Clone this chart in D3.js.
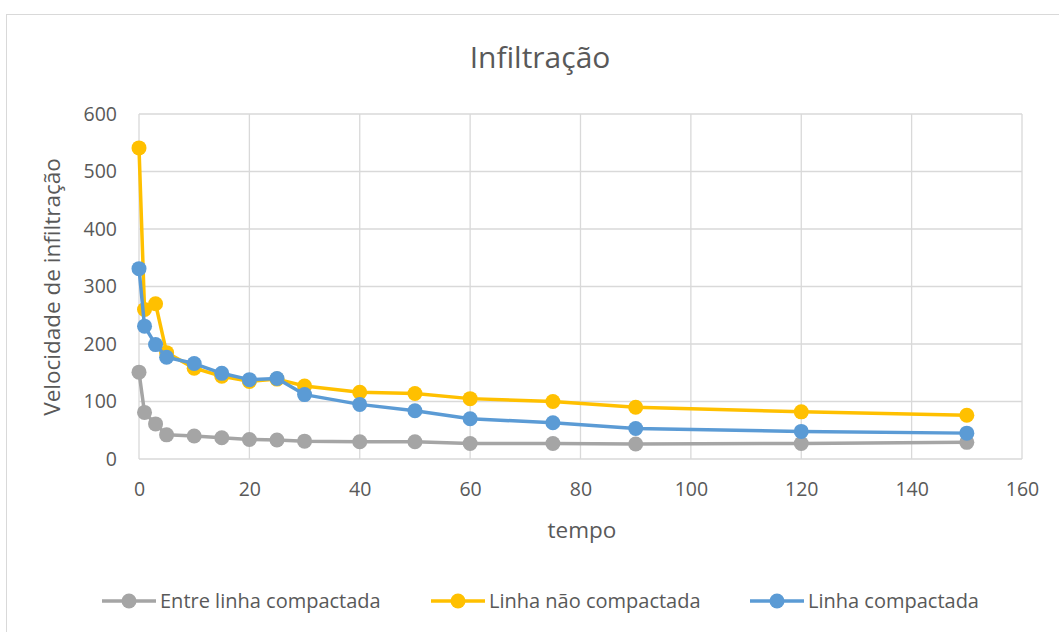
<!DOCTYPE html>
<html>
<head>
<meta charset="utf-8">
<script src="https://cdn.jsdelivr.net/npm/d3@7"></script>
<style>
  body { margin: 0; background: #fff; }
  text { font-family: "Open Sans", "Noto Sans", sans-serif; fill: #595959; }
</style>
</head>
<body>
<script>
// data
var tempo = [0, 1, 3, 5, 10, 15, 20, 25, 30, 40, 50, 60, 75, 90, 120, 150];
var entreLinha = [151, 81, 61, 42, 40, 37, 34, 33, 31, 30, 30, 27, 27, 26, 27, 29];
var linhaNao = [541, 260, 270, 185, 158, 144, 135, 139, 127, 116, 114, 105, 100, 90, 82, 76];
var linhaComp = [331, 231, 199, 177, 166, 149, 138, 140, 112, 95, 84, 70, 63, 53, 48, 45];
var seriesNames = ["Entre linha compactada", "Linha não compactada", "Linha compactada"];
var seriesColors = ["#A5A5A5", "#FFC000", "#5B9BD5"];
var xTicks = [0, 20, 40, 60, 80, 100, 120, 140, 160];
var yTicks = [0, 100, 200, 300, 400, 500, 600];

var W = 1059, H = 632;
var plot = {left: 139, right: 1022, top: 114, bottom: 459};

var svg = d3.select("body").append("svg")
  .attr("width", W).attr("height", H);

// chart border
svg.append("rect")
  .attr("x", 6.5).attr("y", 14.5)
  .attr("width", W + 20).attr("height", H + 20)
  .attr("fill", "#fff").attr("stroke", "#D9D9D9").attr("stroke-width", 1);

var x = d3.scaleLinear().domain([0, 160]).range([plot.left, plot.right]);
var y = d3.scaleLinear().domain([0, 600]).range([plot.bottom, plot.top]);

// gridlines
svg.append("g").selectAll("line.h")
  .data(yTicks).enter().append("line")
  .attr("x1", plot.left).attr("x2", plot.right)
  .attr("y1", function(d) { return y(d); }).attr("y2", function(d) { return y(d); })
  .attr("stroke", "#D9D9D9").attr("stroke-width", 1.3);
svg.append("g").selectAll("line.v")
  .data(xTicks).enter().append("line")
  .attr("y1", plot.top).attr("y2", plot.bottom)
  .attr("x1", function(d) { return x(d); }).attr("x2", function(d) { return x(d); })
  .attr("stroke", "#D9D9D9").attr("stroke-width", 1.3);

// axes (labels only, lines drawn as grid)
var xAxis = d3.axisBottom(x).tickValues(xTicks).tickSize(0).tickPadding(23);
var gx = svg.append("g").attr("transform", "translate(0," + plot.bottom + ")").call(xAxis);
gx.select(".domain").remove();
gx.selectAll("text").style("font-size", "19.5px").attr("fill", "#595959")
  .style("font-family", "'Open Sans', sans-serif");

var yAxis = d3.axisLeft(y).tickValues(yTicks).tickSize(0).tickPadding(22);
var gy = svg.append("g").attr("transform", "translate(" + plot.left + ",0)").call(yAxis);
gy.select(".domain").remove();
gy.selectAll("text").style("font-size", "19.5px").attr("fill", "#595959")
  .style("font-family", "'Open Sans', sans-serif");

// title and axis titles
svg.append("text")
  .attr("x", 540).attr("y", 68)
  .attr("text-anchor", "middle")
  .style("font-size", "30px")
  .text("Infiltração");

svg.append("text")
  .attr("x", 582).attr("y", 538)
  .attr("text-anchor", "middle")
  .style("font-size", "22.5px")
  .text("tempo");

svg.append("text")
  .attr("transform", "translate(60,287) rotate(-90)")
  .attr("text-anchor", "middle")
  .style("font-size", "22.5px")
  .text("Velocidade de infiltração");

// series
var allSeries = [entreLinha, linhaNao, linhaComp];
var line = d3.line()
  .x(function(d, i) { return x(tempo[i]); })
  .y(function(d) { return y(d); });

allSeries.forEach(function(vals, s) {
  var g = svg.append("g");
  g.append("path")
    .datum(vals)
    .attr("d", line)
    .attr("fill", "none")
    .attr("stroke", seriesColors[s])
    .attr("stroke-width", 3.5)
    .attr("stroke-linejoin", "round");
  g.selectAll("circle")
    .data(vals).enter().append("circle")
    .attr("cx", function(d, i) { return x(tempo[i]); })
    .attr("cy", function(d) { return y(d); })
    .attr("r", 7.5)
    .attr("fill", seriesColors[s]);
});

// legend
var legendX = [102, 431, 750];
var legend = svg.selectAll("g.legend")
  .data(seriesNames).enter().append("g")
  .attr("class", "legend")
  .attr("transform", function(d, i) { return "translate(" + legendX[i] + ",601)"; });

legend.append("line")
  .attr("x1", 0).attr("x2", 54).attr("y1", 0).attr("y2", 0)
  .attr("stroke", function(d, i) { return seriesColors[i]; })
  .attr("stroke-width", 3.5);
legend.append("circle")
  .attr("cx", 27).attr("cy", 0).attr("r", 7.5)
  .attr("fill", function(d, i) { return seriesColors[i]; });
legend.append("text")
  .attr("x", 58).attr("y", 7)
  .style("font-size", "20px")
  .text(function(d) { return d; });
</script>
</body>
</html>
